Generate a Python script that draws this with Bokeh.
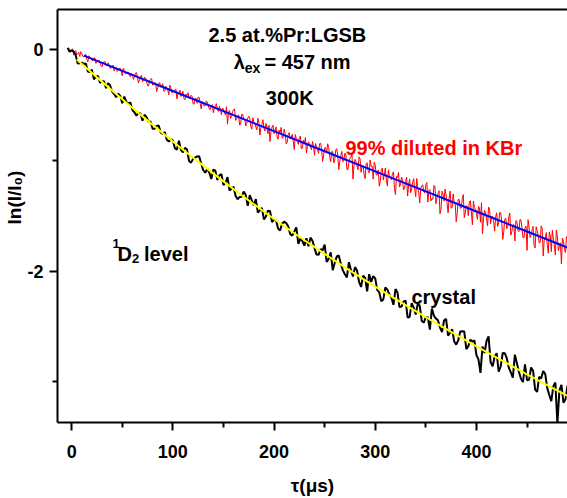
from bokeh.plotting import figure
from bokeh.models import Range1d, FixedTicker, Label, LinearAxis, Title
from bokeh.embed import file_html
from bokeh.resources import INLINE

# ---- data ----
# 99% diluted in KBr: samples at even and at odd microseconds
tau_red_even = list(range(-4, 498, 2))
red_even = [
    0.006, -0.024, -0.005, -0.054, -0.012, -0.041, -0.066, -0.039, -0.068, -0.046,
    -0.113, -0.076, -0.101, -0.079, -0.128, -0.101, -0.118, -0.160, -0.117, -0.146,
    -0.123, -0.171, -0.158, -0.197, -0.164, -0.188, -0.171, -0.240, -0.197, -0.222,
    -0.206, -0.249, -0.226, -0.254, -0.211, -0.305, -0.249, -0.295, -0.255, -0.289,
    -0.332, -0.270, -0.323, -0.303, -0.382, -0.311, -0.343, -0.311, -0.378, -0.352,
    -0.411, -0.346, -0.389, -0.366, -0.448, -0.393, -0.427, -0.380, -0.456, -0.416,
    -0.444, -0.415, -0.494, -0.442, -0.488, -0.435, -0.538, -0.477, -0.508, -0.476,
    -0.540, -0.512, -0.573, -0.508, -0.542, -0.514, -0.590, -0.540, -0.592, -0.676,
    -0.553, -0.605, -0.544, -0.642, -0.600, -0.684, -0.587, -0.635, -0.692, -0.622,
    -0.620, -0.722, -0.653, -0.701, -0.622, -0.774, -0.678, -0.712, -0.669, -0.762,
    -0.833, -0.705, -0.762, -0.701, -0.812, -0.752, -0.804, -0.721, -0.854, -0.767,
    -0.811, -0.768, -0.906, -0.805, -0.858, -0.783, -0.890, -0.848, -0.936, -0.835,
    -0.887, -0.832, -0.956, -0.882, -0.939, -0.847, -1.012, -0.890, -0.933, -0.886,
    -1.014, -0.925, -0.998, -0.897, -1.085, -0.960, -1.015, -0.938, -1.084, -1.019,
    -0.972, -1.171, -0.993, -1.054, -0.971, -1.110, -1.052, -1.167, -1.024, -1.115,
    -1.057, -1.172, -1.047, -1.132, -1.235, -1.087, -1.178, -1.071, -1.234, -1.140,
    -1.177, -1.106, -1.311, -1.157, -1.242, -1.153, -1.268, -1.192, -1.325, -1.170,
    -1.261, -1.167, -1.330, -1.247, -1.386, -1.231, -1.287, -1.222, -1.379, -1.266,
    -1.349, -1.228, -1.393, -1.302, -1.483, -1.280, -1.370, -1.316, -1.475, -1.279,
    -1.429, -1.383, -1.556, -1.353, -1.435, -1.344, -1.518, -1.412, -1.502, -1.366,
    -1.584, -1.426, -1.478, -1.417, -1.560, -1.665, -1.454, -1.537, -1.423, -1.574,
    -1.506, -1.641, -1.475, -1.566, -1.475, -1.715, -1.534, -1.617, -1.511, -1.676,
    -1.585, -1.729, -1.555, -1.645, -1.539, -1.698, -1.614, -1.814, -1.600, -1.675,
    -1.598, -1.792, -1.637, -1.747, -1.593, -1.864, -1.709, -1.759, -1.647, -1.825,
    -1.704, -1.856, -1.693, -1.777, -1.937, -1.731, -1.833, -1.704, -1.932, -1.777, -1.845,
]
tau_red_odd = list(range(-3, 497, 2))
red_odd = [
    0.012, -0.017, 0.003, -0.022, -0.051, -0.028, -0.022, -0.065, -0.054, -0.093,
    -0.059, -0.082, -0.103, -0.078, -0.110, -0.099, -0.148, -0.117, -0.110, -0.150,
    -0.143, -0.172, -0.143, -0.171, -0.200, -0.173, -0.198, -0.172, -0.221, -0.210,
    -0.231, -0.221, -0.272, -0.216, -0.247, -0.276, -0.235, -0.278, -0.258, -0.329,
    -0.279, -0.265, -0.320, -0.306, -0.347, -0.300, -0.337, -0.377, -0.334, -0.368,
    -0.324, -0.394, -0.375, -0.364, -0.404, -0.369, -0.404, -0.444, -0.406, -0.392,
    -0.445, -0.425, -0.495, -0.445, -0.432, -0.487, -0.473, -0.513, -0.466, -0.504,
    -0.544, -0.500, -0.534, -0.491, -0.561, -0.541, -0.530, -0.576, -0.519, -0.567,
    -0.624, -0.564, -0.539, -0.628, -0.594, -0.674, -0.586, -0.629, -0.668, -0.604,
    -0.692, -0.618, -0.670, -0.727, -0.658, -0.706, -0.636, -0.738, -0.705, -0.685,
    -0.742, -0.685, -0.734, -0.791, -0.730, -0.705, -0.795, -0.761, -0.840, -0.752,
    -0.796, -0.835, -0.770, -0.831, -0.798, -0.900, -0.821, -0.797, -0.876, -0.852,
    -0.905, -0.871, -0.851, -0.909, -0.852, -0.900, -0.957, -0.888, -0.853, -0.968,
    -0.921, -1.025, -0.906, -0.961, -1.010, -0.922, -1.001, -0.954, -1.087, -0.981,
    -0.946, -1.049, -1.014, -1.087, -0.987, -1.054, -1.127, -1.032, -1.094, -0.999,
    -1.054, -1.019, -1.135, -1.088, -1.191, -1.072, -1.128, -1.177, -1.088, -1.167,
    -1.121, -1.254, -1.147, -1.112, -1.216, -1.181, -1.254, -1.153, -1.220, -1.294,
    -1.199, -1.260, -1.165, -1.299, -1.252, -1.223, -1.296, -1.203, -1.278, -1.368,
    -1.352, -1.240, -1.337, -1.276, -1.441, -1.306, -1.261, -1.388, -1.342, -1.433,
    -1.305, -1.387, -1.477, -1.356, -1.432, -1.311, -1.476, -1.415, -1.378, -1.468,
    -1.369, -1.444, -1.535, -1.429, -1.383, -1.526, -1.466, -1.593, -1.442, -1.509,
    -1.555, -1.509, -1.599, -1.471, -1.554, -1.644, -1.523, -1.598, -1.477, -1.643,
    -1.582, -1.544, -1.634, -1.536, -1.611, -1.701, -1.595, -1.537, -1.698, -1.628,
    -1.771, -1.600, -1.675, -1.742, -1.613, -1.723, -1.653, -1.839, -1.684, -1.633,
    -1.768, -1.630, -1.816, -1.746, -1.703, -1.804, -1.691, -1.775, -1.877, -1.756,
]

# crystal: samples every 4 us, and the ones in between
tau_black_a = list(range(-4, 500, 4))
black_a = [
    0.010, -0.010, -0.055, -0.126, -0.134, -0.201, -0.184, -0.246, -0.303, -0.289,
    -0.306, -0.383, -0.434, -0.421, -0.427, -0.488, -0.549, -0.599, -0.580, -0.591,
    -0.657, -0.717, -0.692, -0.752, -0.747, -0.832, -0.822, -0.906, -0.910, -0.889,
    -1.008, -0.988, -0.967, -1.030, -1.114, -1.112, -1.085, -1.179, -1.127, -1.205,
    -1.273, -1.240, -1.353, -1.330, -1.313, -1.316, -1.407, -1.474, -1.431, -1.508,
    -1.459, -1.536, -1.617, -1.572, -1.568, -1.668, -1.644, -1.755, -1.730, -1.704,
    -1.699, -1.794, -1.854, -1.814, -1.918, -1.832, -1.926, -1.860, -1.994, -2.058,
    -1.992, -1.965, -2.098, -2.041, -2.184, -2.098, -2.066, -2.193, -2.256, -2.168,
    -2.241, -2.163, -2.325, -2.277, -2.419, -2.290, -2.392, -2.314, -2.465, -2.417,
    -2.338, -2.429, -2.510, -2.446, -2.582, -2.524, -2.664, -2.545, -2.546, -2.677,
    -2.637, -2.759, -2.919, -2.739, -2.590, -2.860, -2.741, -2.861, -2.741, -2.871,
    -2.961, -2.831, -2.971, -2.841, -2.981, -2.900, -3.090, -2.969, -2.929, -3.118,
    -3.038, -3.377, -3.026, -3.156, -3.025, -3.244,
]
tau_black_b = list(range(-2, 498, 4))
black_b = [
    -0.023, -0.021, -0.129, -0.121, -0.129, -0.207, -0.272, -0.241, -0.291, -0.352,
    -0.327, -0.404, -0.402, -0.488, -0.474, -0.481, -0.568, -0.575, -0.645, -0.613,
    -0.652, -0.718, -0.688, -0.763, -0.817,
    -0.814, -0.892, -0.826, -0.930, -0.904, -1.023, -0.978, -0.966, -1.090, -1.078,
    -1.171, -1.095, -1.138, -1.226, -1.154, -1.257, -1.324, -1.332, -1.284, -1.412,
    -1.364, -1.351, -1.453, -1.535, -1.456,
    -1.558, -1.544, -1.635, -1.555, -1.596, -1.681, -1.607, -1.708, -1.772, -1.777,
    -1.727, -1.852, -1.802, -1.762, -1.891, -1.992, -1.869, -1.935, -2.029, -1.920,
    -2.049, -1.995, -2.144, -2.062, -2.029,
    -2.046, -2.173, -2.273, -2.148, -2.213, -2.305, -2.194, -2.321, -2.266, -2.414,
    -2.330, -2.296, -2.451, -2.416, -2.529, -2.403, -2.445, -2.550, -2.431, -2.557,
    -2.634, -2.627, -2.543, -2.704, -2.619,
    -2.626, -2.797, -2.682, -2.631, -2.822, -2.771, -2.908, -2.739, -2.786, -2.914,
    -2.754, -2.909, -3.001, -2.985, -2.870, -3.069, -2.954, -2.901, -3.056, -3.174,
    -3.005, -3.078, -3.187, -3.036, -3.190,
]

tau_blue = [12, 50, 100, 150, 200, 250, 300, 350, 400, 450, 500]
blue = [-0.058, -0.196, -0.377, -0.558, -0.739, -0.920, -1.101, -1.282, -1.463, -1.644, -1.825]

tau_yellow = [5, 25, 50, 75, 100, 125, 150, 175, 200, 225, 250, 275, 300,
              325, 350, 375, 400, 425, 450, 475, 500]
yellow = [-0.092, -0.254, -0.452, -0.644, -0.832, -1.014, -1.192, -1.364, -1.531,
          -1.691, -1.846, -1.996, -2.141, -2.281, -2.416, -2.549, -2.679, -2.806,
          -2.931, -3.054, -3.174]

x_ticks = [0, 100, 200, 300, 400]
x_minor = [50, 150, 250, 350, 450]
y_ticks = [0, -2]
y_minor = [-1, -3]
y_tick_labels = {0: "0", -2: "-2"}

# merge the interleaved samples into time order
red_pts = sorted(zip(tau_red_even + tau_red_odd, red_even + red_odd))
black_pts = sorted(zip(tau_black_a + tau_black_b, black_a + black_b))

FONT = "Liberation Sans"

p = figure(width=567, height=498, output_backend="svg", toolbar_location=None,
           x_range=Range1d(-14, 490), y_range=Range1d(-3.366, 0.358),
           min_border_left=57, min_border_right=0, min_border_top=9, min_border_bottom=73)
p.outline_line_color = None
p.grid.visible = False
p.background_fill_color = "white"
p.border_fill_color = "white"

p.line([t for t, _ in red_pts], [v for _, v in red_pts], line_color="#ff0000", line_width=1)
p.line(tau_blue, blue, line_color="#0000ff", line_width=2)
p.line([t for t, _ in black_pts], [v for _, v in black_pts], line_color="black", line_width=2)
p.line(tau_yellow, yellow, line_color="#ffff00", line_width=2)

for ax in (p.xaxis[0], p.yaxis[0]):
    ax.axis_line_width = 2
    ax.axis_line_color = "black"
    ax.major_tick_line_width = 2
    ax.minor_tick_line_width = 2
    ax.major_tick_in = 0
    ax.minor_tick_in = 0
    ax.major_tick_out = 8
    ax.minor_tick_out = 5
    ax.major_label_text_font = FONT
    ax.major_label_text_font_style = "bold"
    ax.major_label_text_font_size = "18px"
    ax.major_label_text_color = "black"

p.xaxis.ticker = FixedTicker(ticks=x_ticks, minor_ticks=x_minor)
p.yaxis.ticker = FixedTicker(ticks=y_ticks, minor_ticks=y_minor)
p.yaxis.major_label_overrides = y_tick_labels
p.xaxis.major_label_standoff = 14
p.yaxis.major_label_standoff = 6

p.xaxis.axis_label = "τ(μs)"
p.xaxis.axis_label_text_font = FONT
p.xaxis.axis_label_text_font_style = "bold"
p.xaxis.axis_label_text_font_size = "19px"
p.xaxis.axis_label_text_color = "black"
p.xaxis.axis_label_standoff = 14

# top border of the frame: a bare axis with no ticks or labels
top = LinearAxis(ticker=FixedTicker(ticks=[]), axis_line_width=2, axis_line_color="black",
                 major_tick_out=0, major_tick_in=0, minor_tick_out=0, minor_tick_in=0,
                 major_label_text_font_size="0px", major_label_standoff=0)
p.add_layout(top, "above")

# y-axis title
p.add_layout(Title(text="ln(I/I₀)", align="left", offset=198, standoff=0,
                   text_font=FONT, text_font_style="bold", text_font_size="19px",
                   text_color="black"), "left")


def note(x, y, text, size="20px", color="black", align="left"):
    p.add_layout(Label(x=x, y=y, text=text, text_align=align, text_baseline="alphabetic",
                       text_font=FONT, text_font_style="bold", text_font_size=size,
                       text_color=color))


note(213.2, 0.125, "2.5 at.%Pr:LGSB", align="center")
note(160.1, -0.114, "λ")
note(171.0, -0.173, "ex", size="14px")
note(190.5, -0.114, "= 457 nm")
note(215.5, -0.441, "300K", align="center")
note(270.6, -0.889, "99% diluted in KBr", color="#ff0000")
note(40.3, -1.755, "1", size="13px")
note(45.3, -1.844, "D")
note(59.5, -1.889, "2", size="13px")
note(71.5, -1.844, "level")
note(335.8, -2.232, "crystal")

open("out.html", "w").write(file_html(p, INLINE))
